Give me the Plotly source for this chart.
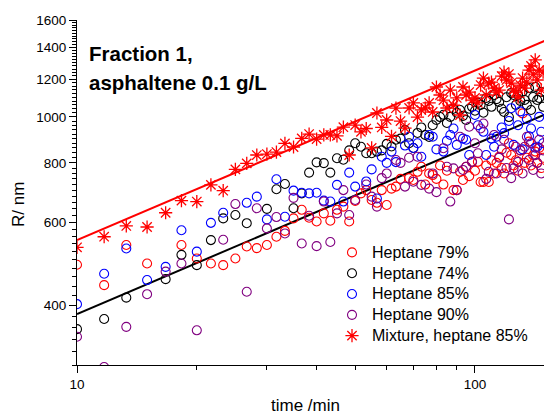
import plotly.graph_objects as go

times = [10.0, 11.7, 13.3, 15.0, 16.7, 18.3, 20.0, 21.7, 23.3, 25.0,
         26.7, 28.3, 30.0, 31.7, 33.3, 35.0, 36.7, 38.3, 40.0, 41.7,
         43.3, 45.0, 46.7, 48.3, 50.0, 51.7, 53.3, 55.0, 56.7, 58.3,
         60.0, 61.7, 63.3, 65.0, 66.7, 68.3, 70.0, 71.7, 73.3, 75.0,
         76.7, 78.3, 80.0, 81.7, 83.3, 85.0, 86.7, 88.3, 90.0, 91.7,
         93.3, 95.0, 96.7, 98.3, 100.0, 101.7, 103.3, 105.0, 106.7, 108.3,
         110.0, 111.7, 113.3, 115.0, 116.7, 118.3, 120.0, 121.7, 123.3, 125.0,
         126.7, 128.3, 130.0, 131.7, 133.3, 135.0, 136.7, 138.3, 140.0, 141.7,
         143.3, 145.0, 146.7, 148.3]

hep79 = [488, 442, 537, 491, None, 537, 503, 491, 487, 503,
         533, 529, 537, 559, 575, 611, 637, 613, 602, 626,
         604, 637, 647, 602, 665, 690, 701, 668, 659, 701,
         652, 706, 713, 740, None, 743, 736, 766, 785, 720,
         760, 754, 740, 790, 720, 770, None, 701, 701, 766,
         736, 785, 750, 804, 770, 804, 729, 729, 790, 729,
         810, 760, 800, 824, 780, 760, 840, 880, 831, 790,
         810, 770, 850, 1017, 800, 820, 887, 790, 830, 845,
         800, 860, 780, 820]

hep74 = [357, 375, 416, None, 455, 512, 487, 550, 611, 621,
         597, None, 640, 704, 722, 642, 690, 763, 802, 799,
         763, 818, 812, 850, 880, 865, 838, 838, 845, 850,
         877, 866, 895, 900, 938, 880, 860, 925, 950, 916,
         907, 960, 985, 999, 1010, 971, 1000, 1040, 1020, 1034,
         1005, 985, 1040, 1050, 1030, 1070, 1060, 1020, 1096, 1080,
         1050, 1112, 1090, 1075, 1040, 1024, 1100, 999, 1123, 1112,
         1060, 1112, 1080, 1130, 1085, 1060, 1150, 1034, 1101, 1156,
         1085, 1096, 1128, 1050]

hep85 = [403, 467, 528, 453, 483, 577, 520, 598, 628, None,
         659, 679, 608, 739, 616, 699, 692, 690, 692, 666,
         663, 719, 663, 763, 713, None, 731, 775, 673, 824,
         800, 845, 803, None, 870, 908, 860, 880, 824, None,
         916, 908, 854, None, 845, 890, 916, 945, 873, None,
         900, 895, 831, None, 1009, 960, None, 930, 831, None,
         900, 865, 908, None, 950, 924, None, 980, 1043, 873,
         None, 960, 1027, 854, None, 990, 910, 945, None, 861,
         865, 1000, 930, 880]

hep90 = [344, 297, 361, 423, 472, 491, 355, None, 551, 655,
         428, 642, 582, 615, 568, 675, 541, 619, 534, 663,
         545, 626, 701, 621, 668, None, 720, 679, 647, 743,
         760, None, 811, 800, 713, 820, 730, 824, 719, None,
         706, 760, 694, None, 859, 785, 663, 779, 701, 908,
         773, 785, 953, 804, 880, 838, 945, 968, 740, 766,
         None, 916, 760, 820, 854, 895, 780, 608, 743, 779,
         865, 804, 850, 760, 865, 908, 811, 880, 773, 830,
         800, 895, 760, 850]

mixture85 = [531, 559, 589, 586, 628, 666, 663, 719, 699, 775,
             798, 831, 835, 843, 879, 864, 901, 920, 898, 916,
             916, 912, 951, 831, 961, 930, 945, 860, 1019, 950,
             985, 910, 1043, 980, 947, 1044, 1070, 999, 1034, 1044,
             1070, 1024, 1156, 1112, 1085, 1044, 1139, 1058, 1096, 1009,
             1156, 1112, 1128, 1085, 1096, 1070, 1167, 1207, 1112, 1178,
             1184, 1150, 1128, 1139, 1219, 1243, 1196, 1231, 1178, 1139,
             1128, 1101, 1167, 1207, 1150, 1184, 1255, 1280, 1231, 1318,
             1196, 1255, 1139, 1243]

fit_t = [10, 150]
fit_mixture = [550, 1447]
fit_heptane = [384, 1012]

series_names = ["Heptane 79%", "Heptane 74%", "Heptane 85%", "Heptane 90%"]
series_vals = [hep79, hep74, hep85, hep90]
series_colors = ["#ff0000", "#000000", "#0000ff", "#800080"]
mixture_name = "Mixture, heptane 85%"

y_ticks = [400, 600, 800, 1000, 1200, 1400, 1600]
y_minor = [v for v in range(300, 1601, 20) if v not in y_ticks]
x_ticks = [10, 100]
x_minor = [20, 30, 40, 50, 60, 70, 80, 90]

FONT = "Liberation Sans, Arial, sans-serif"


def big(s):
    return '<span style="font-size:16px">' + s + '</span>'


fig = go.Figure()

fig.add_trace(go.Scatter(x=fit_t, y=fit_mixture, mode="lines",
                         line=dict(color="#ff0000", width=2), showlegend=False,
                         hoverinfo="skip"))
fig.add_trace(go.Scatter(x=fit_t, y=fit_heptane, mode="lines",
                         line=dict(color="#000000", width=2), showlegend=False,
                         hoverinfo="skip"))

for name, vals, col in zip(series_names, series_vals, series_colors):
    fig.add_trace(go.Scatter(
        x=times, y=vals, mode="markers", name=big(name),
        marker=dict(symbol="circle-open", size=9, color=col,
                    line=dict(width=1.1, color=col))))

fig.add_trace(go.Scatter(
    x=times, y=mixture85, mode="markers", name=big(mixture_name),
    marker=dict(symbol="asterisk-open", size=11, color="#ff0000",
                line=dict(width=1.3, color="#ff0000"))))

L, R_, T, B = 77, 0, 20, 51
W, H = 544, 416
pw, ph = W - L - R_, H - T - B


def px(xp):
    return (xp - L) / pw


def py(yp):
    return 1 - (yp - T) / ph


fig.update_layout(
    width=W, height=H,
    margin=dict(l=L, r=R_, t=T, b=B, pad=0),
    paper_bgcolor="white", plot_bgcolor="white",
    font=dict(family=FONT, color="#000000", size=13.5),
    showlegend=True,
    legend=dict(x=px(332), y=py(237), xanchor="left", yanchor="top",
                bgcolor="rgba(0,0,0,0)", borderwidth=0,
                font=dict(family=FONT, size=13.7, color="#000000"),
                tracegroupgap=0, itemwidth=30),
    xaxis=dict(type="log", range=[1, 2.1734], showline=True, linecolor="#000000",
               linewidth=1.2, showgrid=False, zeroline=False,
               tickmode="array", tickvals=x_ticks, ticktext=["10", "100"],
               ticks="outside", ticklen=7, tickwidth=1.2, tickcolor="#000000",
               tickfont=dict(family=FONT, size=13.5, color="#000000"),
               minor=dict(tickmode="array", tickvals=x_minor, ticks="outside",
                          ticklen=4, tickwidth=1, tickcolor="#000000", showgrid=False)),
    yaxis=dict(type="log", range=[2.47712, 3.20412], showline=True, linecolor="#000000",
               linewidth=1.2, showgrid=False, zeroline=False,
               tickmode="array", tickvals=y_ticks, ticktext=[str(v) for v in y_ticks],
               ticks="outside", ticklen=7, tickwidth=1.2, tickcolor="#000000",
               tickfont=dict(family=FONT, size=13.5, color="#000000"),
               minor=dict(tickmode="array", tickvals=y_minor, ticks="outside",
                          ticklen=4, tickwidth=1, tickcolor="#000000", showgrid=False)),
)

annos = [
    dict(text="time /min", x=px(305), y=py(405), font=dict(size=17)),
    dict(text="R/ nm", x=px(18), y=py(204), textangle=-90, font=dict(size=17)),
    dict(text="<b>Fraction 1,</b>", x=px(87), y=py(53), xanchor="left", font=dict(size=20.5)),
    dict(text="<b>asphaltene 0.1 g/L</b>", x=px(87), y=py(82), xanchor="left", font=dict(size=20.5)),
]
for a in annos:
    a.setdefault("xanchor", "center")
    fig.add_annotation(xref="paper", yref="paper", showarrow=False, yanchor="middle",
                       **{k: v for k, v in a.items() if k != "font"},
                       font=dict(family=FONT, color="#000000", size=a["font"]["size"]))

fig.write_html("out.html")
